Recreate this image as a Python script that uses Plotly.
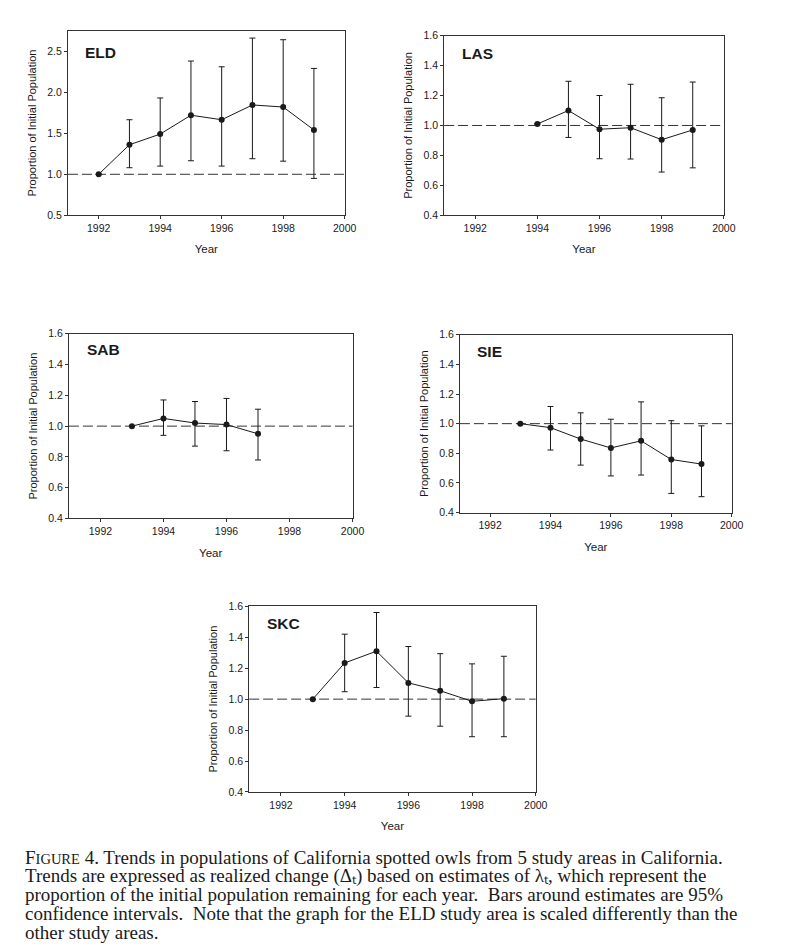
import plotly.graph_objects as go

# ---------------- data ----------------
eld_years = [1992, 1993, 1994, 1995, 1996, 1997, 1998, 1999]
eld_vals = [1.00, 1.36, 1.49, 1.72, 1.665, 1.845, 1.82, 1.54]
eld_upper = [1.00, 1.665, 1.93, 2.38, 2.31, 2.66, 2.64, 2.29]
eld_lower = [1.00, 1.08, 1.10, 1.165, 1.10, 1.19, 1.16, 0.95]

las_years = [1994, 1995, 1996, 1997, 1998, 1999]
las_vals = [1.01, 1.10, 0.975, 0.985, 0.905, 0.97]
las_upper = [1.01, 1.295, 1.20, 1.275, 1.185, 1.29]
las_lower = [1.01, 0.92, 0.778, 0.776, 0.689, 0.717]

sab_years = [1993, 1994, 1995, 1996, 1997]
sab_vals = [1.00, 1.05, 1.02, 1.01, 0.95]
sab_upper = [1.00, 1.17, 1.16, 1.18, 1.11]
sab_lower = [1.00, 0.94, 0.87, 0.84, 0.78]

sie_years = [1993, 1994, 1995, 1996, 1997, 1998, 1999]
sie_vals = [1.00, 0.973, 0.896, 0.836, 0.884, 0.758, 0.727]
sie_upper = [1.00, 1.116, 1.073, 1.03, 1.147, 1.02, 0.985]
sie_lower = [1.00, 0.822, 0.72, 0.647, 0.653, 0.529, 0.507]

skc_years = [1993, 1994, 1995, 1996, 1997, 1998, 1999]
skc_vals = [1.00, 1.234, 1.31, 1.105, 1.054, 0.986, 1.003]
skc_upper = [1.00, 1.42, 1.56, 1.34, 1.294, 1.228, 1.277]
skc_lower = [1.00, 1.048, 1.075, 0.89, 0.825, 0.757, 0.757]

x_ticks = [1992, 1994, 1996, 1998, 2000]
y_ticks_eld = [0.5, 1.0, 1.5, 2.0, 2.5]
y_ticks_std = [0.4, 0.6, 0.8, 1.0, 1.2, 1.4, 1.6]

panels = [
    ("ELD", eld_years, eld_vals, eld_upper, eld_lower, (69, 350, 25, 212), [0.5, 2.75], y_ticks_eld, 0.94),
    ("LAS", las_years, las_vals, las_upper, las_lower, (451, 735, 30, 212), [0.4, 1.6], y_ticks_std, 0.96),
    ("SAB", sab_years, sab_vals, sab_upper, sab_lower, (70, 358, 332, 519), [0.4, 1.6], y_ticks_std, 0.97),
    ("SIE", sie_years, sie_vals, sie_upper, sie_lower, (467, 743, 333, 513), [0.4, 1.6], y_ticks_std, 0.965),
    ("SKC", skc_years, skc_vals, skc_upper, skc_lower, (253, 544, 608, 796), [0.4, 1.6], y_ticks_std, 0.965),
]

W, H = 788, 950
INK = "#1a1a1a"
fig = go.Figure()
layout = dict(
    width=W, height=H, margin=dict(l=0, r=0, t=0, b=0),
    paper_bgcolor="white", plot_bgcolor="white", showlegend=False,
    font=dict(family="Liberation Sans, Arial", size=10, color=INK),
)
annotations = []
shapes = []

for i, (name, yrs, vals, up, lo, box, yr, yt, lab_y) in enumerate(panels):
    n = "" if i == 0 else str(i + 1)
    xa, ya = "x" + n, "y" + n
    l, r, t, b = box
    fig.add_trace(go.Scatter(
        x=yrs, y=vals, mode="lines+markers", xaxis=xa, yaxis=ya,
        line=dict(color=INK, width=1),
        marker=dict(color=INK, size=6),
        error_y=dict(type="data", symmetric=False,
                     array=[u - v for u, v in zip(up, vals)],
                     arrayminus=[v - w for v, w in zip(vals, lo)],
                     color=INK, thickness=1, width=3),
    ))
    common = dict(showline=True, mirror=True, linecolor="#333", linewidth=1,
                  ticks="outside", ticklen=3, tickcolor="#333", showgrid=False,
                  zeroline=False, tickfont=dict(size=10.5, color=INK))
    layout["xaxis" + n] = dict(
        common, domain=[l / W, r / W], range=[1991, 2000], tickvals=x_ticks,
        anchor=ya, title=dict(text="Year", font=dict(size=11.5, color=INK), standoff=12),
    )
    layout["yaxis" + n] = dict(
        common, domain=[1 - b / H, 1 - t / H], range=yr, tickvals=yt, tickformat=".1f",
        anchor=xa, title=dict(text="Proportion of Initial Population",
                              font=dict(size=11, color=INK), standoff=8),
    )
    shapes.append(dict(type="line", xref=xa + " domain", yref=ya, x0=0, x1=1, y0=1.0, y1=1.0,
                       line=dict(color="#333", width=1, dash="10px,4px"), layer="below"))
    annotations.append(dict(text="<b>" + name + "</b>", xref=xa + " domain", yref=ya + " domain",
                            x=0.055, y=lab_y, xanchor="left", yanchor="top", showarrow=False,
                            font=dict(size=15.5, color=INK, family="Liberation Sans, Arial")))

caption_lines = [
    "F<span style='font-size:14.5px'>IGURE</span> 4. Trends in populations of California spotted owls from 5 study areas in California.",
    "Trends are expressed as realized change (Δₜ) based on estimates of λₜ, which represent the",
    "proportion of the initial population remaining for each year.  Bars around estimates are 95%",
    "confidence intervals.  Note that the graph for the ELD study area is scaled differently than the",
    "other study areas.",
]
cap_y = [862, 881, 900, 919, 938]
for txt, yy in zip(caption_lines, cap_y):
    annotations.append(dict(text=txt, xref="paper", yref="paper", x=23 / W, y=1 - yy / H,
                            xanchor="left", yanchor="middle", showarrow=False, align="left",
                            font=dict(size=19, color=INK, family="Liberation Serif, Times New Roman")))

layout["annotations"] = annotations
layout["shapes"] = shapes
fig.update_layout(**layout)
fig.write_html("out.html", config={"displayModeBar": False},
               post_script="document.body.style.margin='0';")
